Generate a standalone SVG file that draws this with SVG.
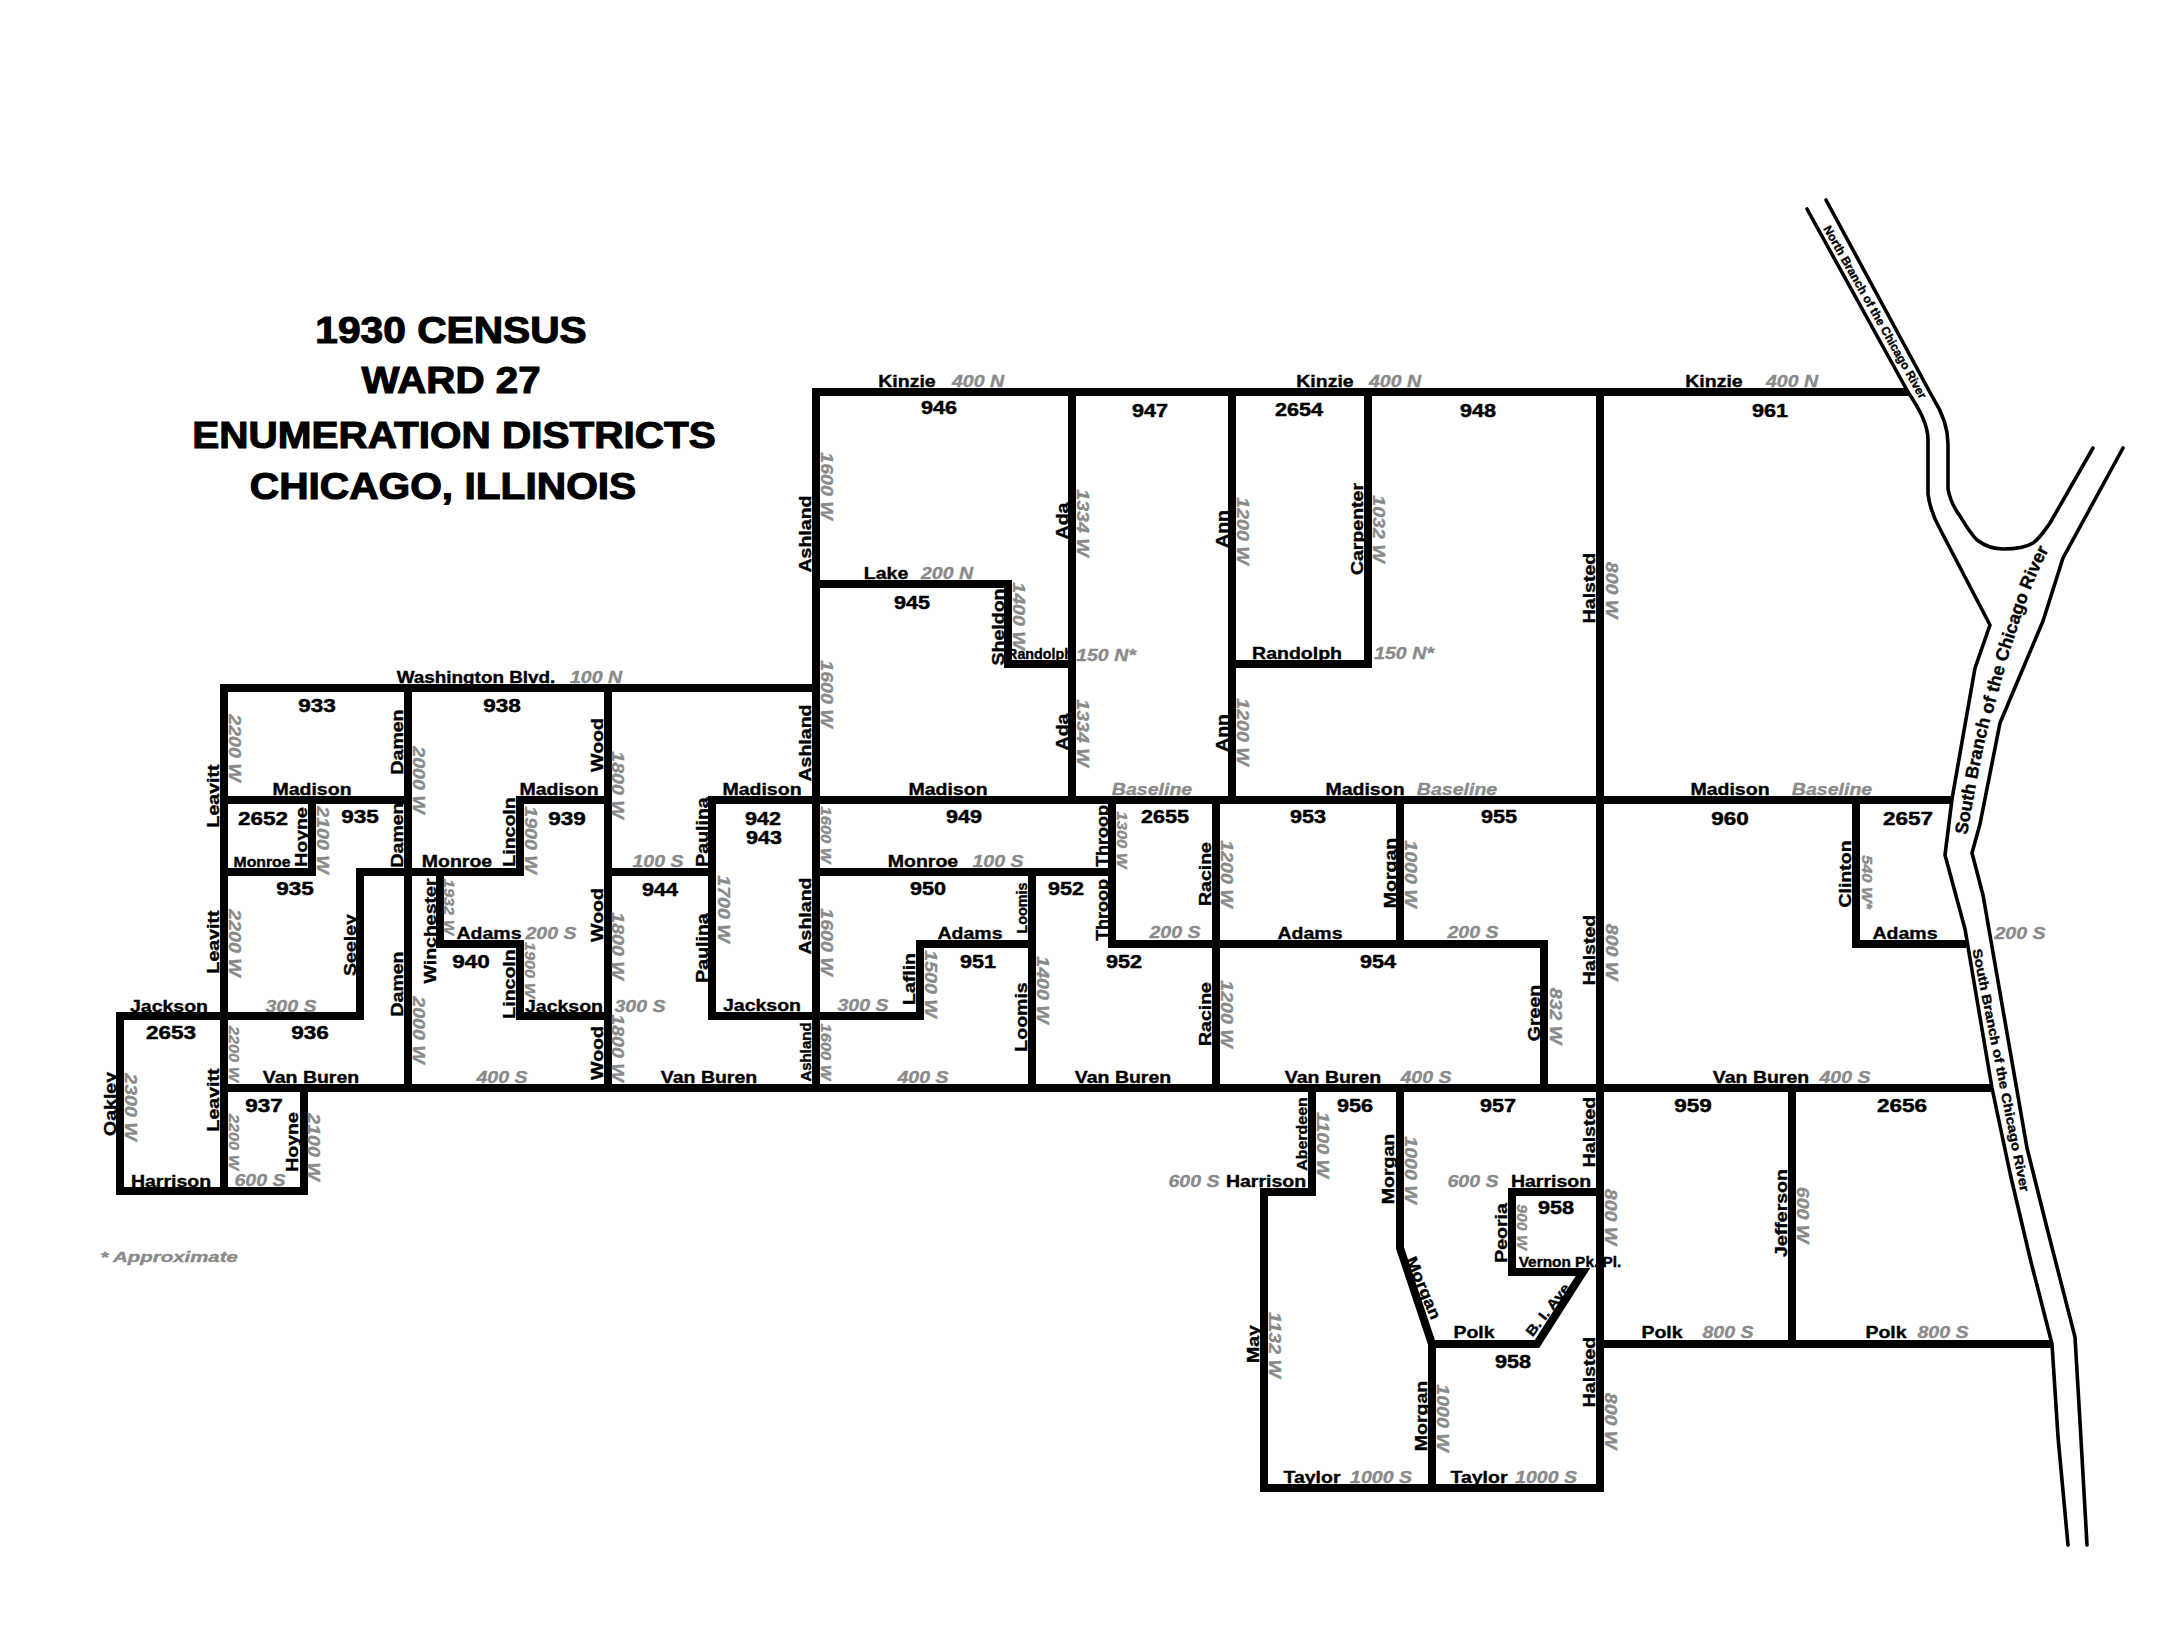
<svg xmlns="http://www.w3.org/2000/svg" width="2180" height="1649" viewBox="0 0 2180 1649">
<style>
text{font-family:"Liberation Sans",Arial,sans-serif;font-weight:bold;text-anchor:middle;fill:#000;stroke:#000;stroke-width:.35px}
.b{font-size:16px}
.s{font-size:14px}
.n{font-size:18px;stroke-width:.45px}
.h{font-size:37px;stroke-width:1.1px}
.g{font-size:17px;font-style:italic;fill:#8a8a8a;stroke:#8a8a8a}
.gs{font-size:15px;font-style:italic;fill:#8a8a8a;stroke:#8a8a8a}
.roads{fill:none;stroke:#000;stroke-width:8;stroke-linecap:square;stroke-linejoin:miter}
.river{fill:none;stroke:#000;stroke-width:3.6;stroke-linejoin:round;stroke-linecap:round}
</style>
<defs>
<path id="southUpper" d="M1967 835C1975 790 1983 745 1990 721C1998 695 2005 665 2012 645C2020 620 2028 590 2050 547"/>
</defs>
<rect width="2180" height="1649" fill="#fff"/>

<g id="title">
<text class="h" transform="matrix(1.1 0 0 1 451 343)">1930 CENSUS</text>
<text class="h" transform="matrix(1.09 0 0 1 451 393)">WARD 27</text>
<text class="h" transform="matrix(1.095 0 0 1 454 448)">ENUMERATION DISTRICTS</text>
<text class="h" transform="matrix(1.1 0 0 1 443 499)">CHICAGO, ILLINOIS</text>
</g>

<text class="s" id="vernon" transform="matrix(1.1 0 0 1 1570 1267)">Vernon Pk. Pl.</text>

<g id="river">
<path class="river" d="M1807 209L1908 392C1920 410 1928 425 1928 440L1928 494C1930 510 1935 520 1940 529L1990 625L1975 668L1952 799L1945 855L1965 929L1992 1088L2010 1173L2030 1258L2052 1344L2058 1437L2068 1545"/>
<path class="river" d="M1826 200L1933 398C1942 412 1948 428 1948 444L1948 489C1950 500 1954 508 1960 516C1966 526 1970 533 1977 540C1985 546 1995 549 2003 549C2015 549 2025 548 2033 543C2040 538 2045 530 2050 523L2093 448"/>
<path class="river" d="M2123 448L2063 558L2043 621L2000 723L1980 824L1972 853L1983 895L2027 1148L2047 1228L2075 1337L2080 1422L2087 1545"/>
</g>

<g id="connectors">
<path class="roads" d="M224 688H816M224 688V1191M408 688V1088M608 688V1088M224 800H408M312 800V872H224M360 1016V872H520V800H608M440 872V944H520V1016H608M120 1016H360M120 1016V1191H304V1088M224 1088H1988M608 872H712M712 800V1016H920V944H1032M712 800H1948M816 392V1088M816 392H1904M1072 392V800M816 584H1008V664H1072M1232 392V800M1368 392V664H1232M1600 392V1488M816 872H1112M1112 800V944H1544V1088M1032 872V1088M1216 800V1088M1400 800V944M1856 800V944H1962M1792 1088V1344M1600 1344H2048M1312 1088V1192H1264V1488H1600M1400 1088V1248L1432 1344V1488M1432 1344H1537L1583 1272H1512V1192H1600"/>
</g>

<g id="numbers">
<text class="n" transform="matrix(1.25 0 0 1 317 712)">933</text>
<text class="n" transform="matrix(1.25 0 0 1 502 712)">938</text>
<text class="n" transform="matrix(1.25 0 0 1 263 825)">2652</text>
<text class="n" transform="matrix(1.25 0 0 1 360 823)">935</text>
<text class="n" transform="matrix(1.25 0 0 1 567 825)">939</text>
<text class="n" transform="matrix(1.25 0 0 1 295 895)">935</text>
<text class="n" transform="matrix(1.25 0 0 1 471 968)">940</text>
<text class="n" transform="matrix(1.25 0 0 1 171 1039)">2653</text>
<text class="n" transform="matrix(1.25 0 0 1 310 1039)">936</text>
<text class="n" transform="matrix(1.25 0 0 1 264 1112)">937</text>
<text class="n" transform="matrix(1.2 0 0 1 763 825)">942</text>
<text class="n" transform="matrix(1.2 0 0 1 764 844)">943</text>
<text class="n" transform="matrix(1.2 0 0 1 660 896)">944</text>
<text class="n" transform="matrix(1.2 0 0 1 964 823)">949</text>
<text class="n" transform="matrix(1.2 0 0 1 928 895)">950</text>
<text class="n" transform="matrix(1.2 0 0 1 1066 895)">952</text>
<text class="n" transform="matrix(1.2 0 0 1 978 968)">951</text>
<text class="n" transform="matrix(1.2 0 0 1 1124 968)">952</text>
<text class="n" transform="matrix(1.2 0 0 1 1165 823)">2655</text>
<text class="n" transform="matrix(1.2 0 0 1 1308 823)">953</text>
<text class="n" transform="matrix(1.2 0 0 1 1499 823)">955</text>
<text class="n" transform="matrix(1.2 0 0 1 1378 968)">954</text>
<text class="n" transform="matrix(1.2 0 0 1 1355 1112)">956</text>
<text class="n" transform="matrix(1.2 0 0 1 1498 1112)">957</text>
<text class="n" transform="matrix(1.2 0 0 1 939 414)">946</text>
<text class="n" transform="matrix(1.2 0 0 1 1150 417)">947</text>
<text class="n" transform="matrix(1.2 0 0 1 1299 416)">2654</text>
<text class="n" transform="matrix(1.2 0 0 1 1478 417)">948</text>
<text class="n" transform="matrix(1.2 0 0 1 1770 417)">961</text>
<text class="n" transform="matrix(1.2 0 0 1 912 609)">945</text>
<text class="n" transform="matrix(1.2 0 0 1 1556 1214)">958</text>
<text class="n" transform="matrix(1.2 0 0 1 1513 1368)">958</text>
<text class="n" transform="matrix(1.25 0 0 1 1730 825)">960</text>
<text class="n" transform="matrix(1.25 0 0 1 1908 825)">2657</text>
<text class="n" transform="matrix(1.25 0 0 1 1693 1112)">959</text>
<text class="n" transform="matrix(1.25 0 0 1 1902 1112)">2656</text>
</g>

<g id="streets">
<text class="b" transform="matrix(1.18 0 0 1 476 683)">Washington Blvd.</text>
<text class="b" transform="matrix(1.22 0 0 1 312 795)">Madison</text>
<text class="b" transform="matrix(1.22 0 0 1 559 795)">Madison</text>
<text class="b" transform="matrix(1.22 0 0 1 762 795)">Madison</text>
<text class="b" transform="matrix(1.22 0 0 1 948 795)">Madison</text>
<text class="b" transform="matrix(1.22 0 0 1 1365 795)">Madison</text>
<text class="b" transform="matrix(1.22 0 0 1 1730 795)">Madison</text>
<text class="s" transform="matrix(1.13 0 0 1 262 867)">Monroe</text>
<text class="b" transform="matrix(1.22 0 0 1 457 867)">Monroe</text>
<text class="b" transform="matrix(1.22 0 0 1 923 867)">Monroe</text>
<text class="b" transform="matrix(1.22 0 0 1 489 939)">Adams</text>
<text class="b" transform="matrix(1.22 0 0 1 970 939)">Adams</text>
<text class="b" transform="matrix(1.22 0 0 1 1310 939)">Adams</text>
<text class="b" transform="matrix(1.22 0 0 1 1905 939)">Adams</text>
<text class="b" transform="matrix(1.22 0 0 1 169 1012)">Jackson</text>
<text class="b" transform="matrix(1.22 0 0 1 564 1012)">Jackson</text>
<text class="b" transform="matrix(1.22 0 0 1 762 1011)">Jackson</text>
<text class="b" transform="matrix(1.22 0 0 1 311 1083)">Van Buren</text>
<text class="b" transform="matrix(1.22 0 0 1 709 1083)">Van Buren</text>
<text class="b" transform="matrix(1.22 0 0 1 1123 1083)">Van Buren</text>
<text class="b" transform="matrix(1.22 0 0 1 1333 1083)">Van Buren</text>
<text class="b" transform="matrix(1.22 0 0 1 1761 1083)">Van Buren</text>
<text class="b" transform="matrix(1.22 0 0 1 171 1187)">Harrison</text>
<text class="b" transform="matrix(1.22 0 0 1 1266 1187)">Harrison</text>
<text class="b" transform="matrix(1.22 0 0 1 1551 1187)">Harrison</text>
<text class="b" transform="matrix(1.22 0 0 1 907 387)">Kinzie</text>
<text class="b" transform="matrix(1.22 0 0 1 1325 387)">Kinzie</text>
<text class="b" transform="matrix(1.22 0 0 1 1714 387)">Kinzie</text>
<text class="b" transform="matrix(1.22 0 0 1 886 579)">Lake</text>
<text class="s" transform="matrix(1.02 0 0 1 1040 659)">Randolph</text>
<text class="b" transform="matrix(1.22 0 0 1 1297 659)">Randolph</text>
<text class="b" transform="matrix(1.22 0 0 1 1474 1338)">Polk</text>
<text class="b" transform="matrix(1.22 0 0 1 1662 1338)">Polk</text>
<text class="b" transform="matrix(1.22 0 0 1 1886 1338)">Polk</text>
<text class="b" transform="matrix(1.22 0 0 1 1312 1483)">Taylor</text>
<text class="b" transform="matrix(1.22 0 0 1 1479 1483)">Taylor</text>

<text class="b" transform="matrix(0 -1.22 1 0 219 796)">Leavitt</text>
<text class="b" transform="matrix(0 -1.22 1 0 219 942)">Leavitt</text>
<text class="b" transform="matrix(0 -1.22 1 0 219 1100)">Leavitt</text>
<text class="b" transform="matrix(0 -1.22 1 0 403 742)">Damen</text>
<text class="b" transform="matrix(0 -1.22 1 0 403 835)">Damen</text>
<text class="b" transform="matrix(0 -1.22 1 0 403 984)">Damen</text>
<text class="b" transform="matrix(0 -1.22 1 0 307 837)">Hoyne</text>
<text class="b" transform="matrix(0 -1.22 1 0 298 1142)">Hoyne</text>
<text class="b" transform="matrix(0 -1.22 1 0 356 945)">Seeley</text>
<text class="b" transform="matrix(0 -1.22 1 0 116 1104)">Oakley</text>
<text class="b" transform="matrix(0 -1.22 1 0 603 745)">Wood</text>
<text class="b" transform="matrix(0 -1.22 1 0 603 915)">Wood</text>
<text class="b" transform="matrix(0 -1.22 1 0 603 1053)">Wood</text>
<text class="b" transform="matrix(0 -1.22 1 0 515 832)">Lincoln</text>
<text class="b" transform="matrix(0 -1.22 1 0 515 984)">Lincoln</text>
<text class="b" transform="matrix(0 -1.22 1 0 436 931)">Winchester</text>
<text class="b" transform="matrix(0 -1.22 1 0 708 832)">Paulina</text>
<text class="b" transform="matrix(0 -1.22 1 0 708 948)">Paulina</text>
<text class="b" transform="matrix(0 -1.22 1 0 811 534)">Ashland</text>
<text class="b" transform="matrix(0 -1.22 1 0 811 743)">Ashland</text>
<text class="b" transform="matrix(0 -1.22 1 0 811 916)">Ashland</text>
<text class="s" transform="matrix(0 -1.07 1 0 811 1052)">Ashland</text>
<text class="s" transform="matrix(0 -1.03 1 0 1027 908)">Loomis</text>
<text class="b" transform="matrix(0 -1.22 1 0 1027 1017)">Loomis</text>
<text class="b" transform="matrix(0 -1.22 1 0 915 979)">Laflin</text>
<text class="b" transform="matrix(0 -1.12 1 0 1108 836)">Throop</text>
<text class="b" transform="matrix(0 -1.12 1 0 1108 910)">Throop</text>
<text class="b" transform="matrix(0 -1.22 1 0 1211 874)">Racine</text>
<text class="b" transform="matrix(0 -1.22 1 0 1211 1014)">Racine</text>
<text class="b" transform="matrix(0 -1.22 1 0 1396 873)">Morgan</text>
<text class="b" transform="matrix(0 -1.22 1 0 1540 1013)">Green</text>
<text class="b" transform="matrix(0 -1.22 1 0 1595 950)">Halsted</text>
<text class="b" transform="matrix(0 -1.22 1 0 1595 588)">Halsted</text>
<text class="b" transform="matrix(0 -1.22 1 0 1595 1132)">Halsted</text>
<text class="b" transform="matrix(0 -1.22 1 0 1595 1372)">Halsted</text>
<text class="b" transform="matrix(0 -1.22 1 0 1068 521)">Ada</text>
<text class="b" transform="matrix(0 -1.22 1 0 1068 732)">Ada</text>
<text class="b" transform="matrix(0 -1.22 1 0 1228 529)">Ann</text>
<text class="b" transform="matrix(0 -1.22 1 0 1228 733)">Ann</text>
<text class="b" transform="matrix(0 -1.22 1 0 1363 529)">Carpenter</text>
<text class="b" transform="matrix(0 -1.22 1 0 1004 627)">Sheldon</text>
<text class="s" transform="matrix(0 -1.14 1 0 1307 1134)">Aberdeen</text>
<text class="b" transform="matrix(0 -1.22 1 0 1394 1169)">Morgan</text>
<text class="b" transform="matrix(0 -1.22 1 0 1427 1416)">Morgan</text>
<text class="b" transform="matrix(0 -1.22 1 0 1507 1233)">Peoria</text>
<text class="b" transform="matrix(0 -1.22 1 0 1259 1344)">May</text>
<text class="b" transform="matrix(0 -1.22 1 0 1851 874)">Clinton</text>
<text class="b" transform="matrix(0 -1.22 1 0 1787 1213)">Jefferson</text>
<text class="b" transform="translate(1418.5 1290) rotate(67) scale(1.15 1)">Morgan</text>
<text class="s" transform="translate(1553 1311) rotate(-52) scale(1.15 1)">B. I. Ave.</text>
</g>

<g id="coordinates">
<text class="g" transform="matrix(1.15 0 0 1 596 683)">100 N</text>
<text class="g" transform="matrix(1.15 0 0 1 551 939)">200 S</text>
<text class="g" transform="matrix(1.15 0 0 1 291 1012)">300 S</text>
<text class="g" transform="matrix(1.15 0 0 1 640 1012)">300 S</text>
<text class="g" transform="matrix(1.15 0 0 1 658 867)">100 S</text>
<text class="g" transform="matrix(1.15 0 0 1 502 1083)">400 S</text>
<text class="g" transform="matrix(1.15 0 0 1 260 1186)">600 S</text>
<text class="g" transform="matrix(1.15 0 0 1 998 867)">100 S</text>
<text class="g" transform="matrix(1.15 0 0 1 863 1011)">300 S</text>
<text class="g" transform="matrix(1.15 0 0 1 923 1083)">400 S</text>
<text class="g" transform="matrix(1.15 0 0 1 1175 938)">200 S</text>
<text class="g" transform="matrix(1.15 0 0 1 1473 938)">200 S</text>
<text class="g" transform="matrix(1.15 0 0 1 1426 1083)">400 S</text>
<text class="g" transform="matrix(1.15 0 0 1 1845 1083)">400 S</text>
<text class="g" transform="matrix(1.15 0 0 1 2020 939)">200 S</text>
<text class="g" transform="matrix(1.15 0 0 1 1152 795)">Baseline</text>
<text class="g" transform="matrix(1.15 0 0 1 1457 795)">Baseline</text>
<text class="g" transform="matrix(1.15 0 0 1 1832 795)">Baseline</text>
<text class="g" transform="matrix(1.15 0 0 1 978 387)">400 N</text>
<text class="g" transform="matrix(1.15 0 0 1 1395 387)">400 N</text>
<text class="g" transform="matrix(1.15 0 0 1 1792 387)">400 N</text>
<text class="g" transform="matrix(1.15 0 0 1 947 579)">200 N</text>
<text class="g" transform="matrix(1.15 0 0 1 1106 661)">150 N*</text>
<text class="g" transform="matrix(1.15 0 0 1 1404 659)">150 N*</text>
<text class="g" transform="matrix(1.15 0 0 1 1194 1187)">600 S</text>
<text class="g" transform="matrix(1.15 0 0 1 1473 1187)">600 S</text>
<text class="g" transform="matrix(1.15 0 0 1 1728 1338)">800 S</text>
<text class="g" transform="matrix(1.15 0 0 1 1943 1338)">800 S</text>
<text class="g" transform="matrix(1.15 0 0 1 1381 1483)">1000 S</text>
<text class="g" transform="matrix(1.15 0 0 1 1546 1483)">1000 S</text>
<text class="gs" style="font-size:14px" transform="matrix(1.46 0 0 1 169 1262)">* Approximate</text>

<text class="g" transform="matrix(0 1.15 -1 0 229 748)">2200 W</text>
<text class="g" transform="matrix(0 1.15 -1 0 229 943)">2200 W</text>
<text class="gs" transform="matrix(0 1.08 -1 0 229 1054)">2200 W</text>
<text class="gs" transform="matrix(0 1.08 -1 0 229 1142)">2200 W</text>
<text class="g" transform="matrix(0 1.15 -1 0 413 780)">2000 W</text>
<text class="g" transform="matrix(0 1.15 -1 0 413 1030)">2000 W</text>
<text class="g" transform="matrix(0 1.15 -1 0 317 840)">2100 W</text>
<text class="g" transform="matrix(0 1.15 -1 0 308 1147)">2100 W</text>
<text class="g" transform="matrix(0 1.15 -1 0 125 1107)">2300 W</text>
<text class="g" transform="matrix(0 1.15 -1 0 612 785)">1800 W</text>
<text class="g" transform="matrix(0 1.15 -1 0 612 946)">1800 W</text>
<text class="g" transform="matrix(0 1.15 -1 0 612 1048)">1800 W</text>
<text class="g" transform="matrix(0 1.15 -1 0 525 840)">1900 W</text>
<text class="gs" transform="matrix(0 1.08 -1 0 444 907)">1932 W</text>
<text class="gs" transform="matrix(0 1.08 -1 0 525 970)">1900 W</text>
<text class="g" transform="matrix(0 1.15 -1 0 718 909)">1700 W</text>
<text class="g" transform="matrix(0 1.15 -1 0 821 486)">1600 W</text>
<text class="g" transform="matrix(0 1.15 -1 0 821 694)">1600 W</text>
<text class="gs" transform="matrix(0 1.1 -1 0 821 835)">1600 W</text>
<text class="g" transform="matrix(0 1.15 -1 0 821 942)">1600 W</text>
<text class="gs" transform="matrix(0 1.1 -1 0 821 1052)">1600 W</text>
<text class="g" transform="matrix(0 1.15 -1 0 925 984)">1500 W</text>
<text class="g" transform="matrix(0 1.15 -1 0 1037 990)">1400 W</text>
<text class="gs" transform="matrix(0 1.1 -1 0 1117 840)">1300 W</text>
<text class="g" transform="matrix(0 1.15 -1 0 1221 874)">1200 W</text>
<text class="g" transform="matrix(0 1.15 -1 0 1221 1014)">1200 W</text>
<text class="g" transform="matrix(0 1.15 -1 0 1405 874)">1000 W</text>
<text class="g" transform="matrix(0 1.15 -1 0 1550 1016)">832 W</text>
<text class="g" transform="matrix(0 1.15 -1 0 1606 952)">800 W</text>
<text class="g" transform="matrix(0 1.15 -1 0 1606 590)">800 W</text>
<text class="g" transform="matrix(0 1.15 -1 0 1605 1217)">800 W</text>
<text class="g" transform="matrix(0 1.15 -1 0 1605 1421)">800 W</text>
<text class="g" transform="matrix(0 1.15 -1 0 1077 523)">1334 W</text>
<text class="g" transform="matrix(0 1.15 -1 0 1077 733)">1334 W</text>
<text class="g" transform="matrix(0 1.15 -1 0 1237 531)">1200 W</text>
<text class="g" transform="matrix(0 1.15 -1 0 1237 732)">1200 W</text>
<text class="g" transform="matrix(0 1.15 -1 0 1373 529)">1032 W</text>
<text class="g" transform="matrix(0 1.15 -1 0 1013 616)">1400 W</text>
<text class="g" transform="matrix(0 1.15 -1 0 1317 1145)">1100 W</text>
<text class="g" transform="matrix(0 1.15 -1 0 1405 1170)">1000 W</text>
<text class="g" transform="matrix(0 1.15 -1 0 1437 1418)">1000 W</text>
<text class="gs" transform="matrix(0 1.05 -1 0 1517 1227)">900 W</text>
<text class="g" transform="matrix(0 1.15 -1 0 1269 1345)">1132 W</text>
<text class="gs" transform="matrix(0 1.1 -1 0 1862 882)">540 W*</text>
<text class="g" transform="matrix(0 1.15 -1 0 1797 1215)">600 W</text>
</g>

<g id="riverLabels">
<text style="font-size:12px" transform="translate(1871.5 314) rotate(60.5)">North Branch of the Chicago River</text>
<text style="font-size:18px;text-anchor:start"><textPath href="#southUpper">South Branch of the Chicago River</textPath></text>
<text style="font-size:13px" transform="translate(1996.6 1071) rotate(78.8) scale(1.15 1)">South Branch of the Chicago River</text>
</g>
</svg>
